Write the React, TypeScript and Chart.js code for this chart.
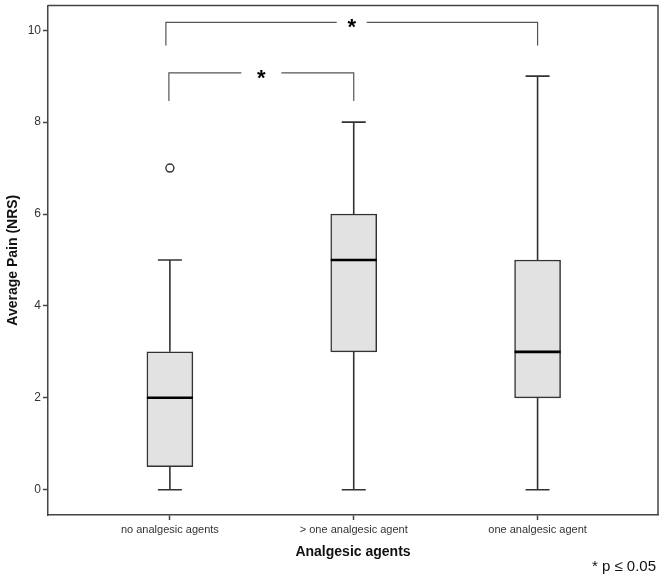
import React, { useEffect, useRef } from "react";
import { Chart, registerables } from "chart.js";

Chart.register(...registerables);

const categories = ["no analgesic agents", "> one analgesic agent", "one analgesic agent"];
const positions = [1, 2, 3];
const mins = [0, 0, 0];
const q1s = [0.5, 3, 2];
const medians = [2, 5, 3];
const q3s = [3, 6, 5];
const maxs = [5, 8, 9];
const outlierX = [1];
const outlierY = [7];
const yTicks = [0, 2, 4, 6, 8, 10];
// significance brackets: from category, to category, bar level, drop level
const bracketFrom = [1, 1];
const bracketTo = [3, 2];
const bracketTop = [10.17, 9.07];
const bracketDrop = [9.67, 8.46];
const bracketStar = ["*", "*"];

const FONT = "'Liberation Sans', Arial, sans-serif";

const boxPlugin = {
  id: "boxExtras",
  beforeDatasetsDraw(chart: any) {
    const { ctx, scales } = chart;
    const xs = scales.x;
    const ys = scales.y;
    ctx.save();
    ctx.strokeStyle = "#333";
    ctx.lineWidth = 1.6;
    for (let i = 0; i < positions.length; i++) {
      const x = xs.getPixelForValue(positions[i]);
      const yMin = ys.getPixelForValue(mins[i]);
      const yMax = ys.getPixelForValue(maxs[i]);
      const yQ1 = ys.getPixelForValue(q1s[i]);
      const yQ3 = ys.getPixelForValue(q3s[i]);
      ctx.beginPath();
      ctx.moveTo(x, yQ3);
      ctx.lineTo(x, yMax);
      ctx.moveTo(x - 12, yMax);
      ctx.lineTo(x + 12, yMax);
      ctx.moveTo(x, yQ1);
      ctx.lineTo(x, yMin);
      ctx.moveTo(x - 12, yMin);
      ctx.lineTo(x + 12, yMin);
      ctx.stroke();
    }
    ctx.restore();
  },
  afterDatasetsDraw(chart: any) {
    const { ctx, scales, chartArea } = chart;
    const xs = scales.x;
    const ys = scales.y;
    ctx.save();
    // medians
    ctx.strokeStyle = "#000";
    ctx.lineWidth = 2.6;
    for (let i = 0; i < positions.length; i++) {
      const x = xs.getPixelForValue(positions[i]);
      const y = ys.getPixelForValue(medians[i]);
      ctx.beginPath();
      ctx.moveTo(x - 23, y);
      ctx.lineTo(x + 23, y);
      ctx.stroke();
    }
    // brackets
    ctx.strokeStyle = "#555";
    ctx.lineWidth = 1.2;
    ctx.fillStyle = "#000";
    ctx.font = `bold 22px ${FONT}`;
    ctx.textAlign = "center";
    ctx.textBaseline = "alphabetic";
    for (let i = 0; i < bracketFrom.length; i++) {
      const x1 = xs.getPixelForValue(bracketFrom[i]) - 4 + i * 3;
      const x2 = xs.getPixelForValue(bracketTo[i]);
      const yt = ys.getPixelForValue(bracketTop[i]);
      const yd = ys.getPixelForValue(bracketDrop[i]);
      const xm = (x1 + x2) / 2;
      const gap = i === 0 ? 15 : 20;
      ctx.beginPath();
      ctx.moveTo(x1, yd);
      ctx.lineTo(x1, yt);
      ctx.lineTo(xm - gap, yt);
      ctx.moveTo(xm + gap, yt);
      ctx.lineTo(x2, yt);
      ctx.lineTo(x2, yd);
      ctx.stroke();
      ctx.fillText(bracketStar[i], xm, yt + 12);
    }
    // frame top / right
    ctx.strokeStyle = "#444";
    ctx.lineWidth = 1.5;
    ctx.beginPath();
    ctx.moveTo(chartArea.left, chartArea.top);
    ctx.lineTo(chartArea.right, chartArea.top);
    ctx.lineTo(chartArea.right, chartArea.bottom);
    ctx.stroke();
    ctx.restore();
  },
  afterDraw(chart: any) {
    const { ctx } = chart;
    ctx.save();
    ctx.fillStyle = "#111";
    ctx.font = `15px ${FONT}`;
    ctx.textAlign = "right";
    ctx.textBaseline = "alphabetic";
    ctx.fillText("* p \u2264 0.05", 656, 571);
    ctx.restore();
  },
};

export default function App() {
  const ref = useRef<HTMLCanvasElement | null>(null);
  useEffect(() => {
    if (!ref.current) return;
    const chart = new Chart(ref.current, {
      type: "bar",
      data: {
        datasets: [
          {
            type: "bar",
            data: positions.map((p, i) => ({ x: p, y: [q1s[i], q3s[i]] })) as any,
            backgroundColor: "#e2e2e2",
            borderColor: "#333",
            borderWidth: 1.5,
            borderSkipped: false,
            barThickness: 46,
            order: 2,
          },
          {
            type: "scatter",
            data: outlierX.map((x, i) => ({ x, y: outlierY[i] })),
            pointStyle: "circle",
            pointRadius: 4,
            pointBackgroundColor: "#fff",
            pointBorderColor: "#333",
            pointBorderWidth: 1.4,
            order: 1,
          } as any,
        ],
      },
      options: {
        animation: false,
        responsive: false,
        maintainAspectRatio: false,
        layout: { padding: { top: 3, right: 6, left: 0, bottom: 0 } },
        plugins: { legend: { display: false }, tooltip: { enabled: false } },
        scales: {
          x: {
            type: "linear",
            offset: false,
            min: 0.337,
            max: 3.655,
            afterBuildTicks: (s: any) => {
              s.ticks = positions.map((v) => ({ value: v }));
            },
            afterFit: (s: any) => {
              s.height = 61;
              s.paddingLeft = 0;
              s.paddingRight = 0;
            },
            grid: {
              offset: false,
              drawOnChartArea: false,
              drawTicks: true,
              tickLength: 5,
              tickWidth: 1.5,
              tickColor: "#444",
            },
            border: { display: true, color: "#444", width: 1.5 },
            ticks: {
              autoSkip: false,
              maxRotation: 0,
              padding: 3,
              color: "#333",
              font: { family: FONT, size: 11 },
              callback: (v: any) => categories[positions.indexOf(Number(v))] ?? "",
            },
            title: {
              display: true,
              text: "Analgesic agents",
              color: "#111",
              font: { family: FONT, size: 14, weight: "bold" },
              padding: { top: 0, bottom: 15 },
            },
          },
          y: {
            type: "linear",
            min: -0.55,
            max: 10.54,
            afterBuildTicks: (s: any) => {
              s.ticks = yTicks.map((v) => ({ value: v }));
            },
            afterFit: (s: any) => {
              s.width = 48;
              s.paddingTop = 0;
              s.paddingBottom = 0;
            },
            grid: {
              drawOnChartArea: false,
              drawTicks: true,
              tickLength: 5,
              tickWidth: 1.5,
              tickColor: "#444",
            },
            border: { display: true, color: "#444", width: 1.5 },
            ticks: {
              padding: 2,
              color: "#333",
              font: { family: FONT, size: 12 },
            },
            title: {
              display: true,
              text: "Average Pain (NRS)",
              color: "#111",
              font: { family: FONT, size: 14, weight: "bold" },
              padding: { top: 5, bottom: 0 },
            },
          },
        },
      },
      plugins: [boxPlugin],
    });
    return () => chart.destroy();
  }, []);
  return (
    <div style={{ position: "fixed", left: 0, top: 0, width: 664, height: 576, background: "#fff" }}>
      <canvas ref={ref} width={664} height={576} style={{ display: "block" }} />
    </div>
  );
}
